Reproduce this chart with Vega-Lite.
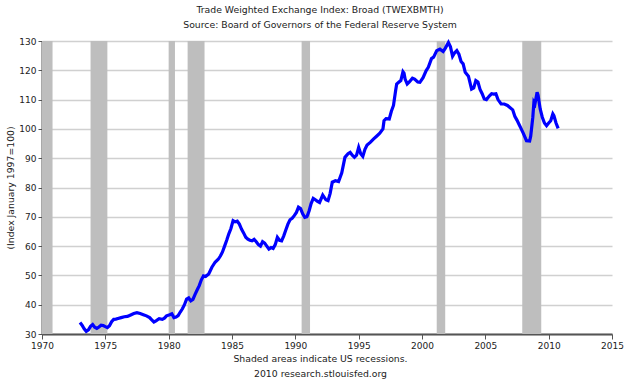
{
  "$schema": "https://vega.github.io/schema/vega-lite/v6.json",
  "width": 570,
  "height": 293,
  "autosize": "none",
  "padding": {"left": 42, "top": 41, "right": 28, "bottom": 50},
  "background": "white",
  "title": {
    "text": ["Trade Weighted Exchange Index: Broad (TWEXBMTH)", "Source: Board of Governors of the Federal Reserve System"],
    "anchor": "middle",
    "dx": -7,
    "font": "DejaVu Sans",
    "fontSize": 9.3,
    "fontWeight": "normal",
    "color": "#222222",
    "lineHeight": 15,
    "offset": 6
  },
  "config": {
    "view": {"stroke": null},
    "axis": {
      "labelFont": "DejaVu Sans",
      "labelFontSize": 9,
      "labelColor": "#222222",
      "titleFont": "DejaVu Sans",
      "titleFontSize": 9.3,
      "titleFontWeight": "normal",
      "titleColor": "#222222",
      "domainColor": "#555555",
      "domainWidth": 2,
      "tickColor": "#555555",
      "tickWidth": 1,
      "gridColor": "#d0d0d0",
      "gridWidth": 1.5
    }
  },
  "datasets": {
    "recessions": [
      {"start": "1970-01-01", "end": "1970-11-01"},
      {"start": "1973-11-01", "end": "1975-03-01"},
      {"start": "1980-01-01", "end": "1980-07-01"},
      {"start": "1981-07-01", "end": "1982-11-01"},
      {"start": "1990-07-01", "end": "1991-03-01"},
      {"start": "2001-03-01", "end": "2001-11-01"},
      {"start": "2007-12-01", "end": "2009-06-01"}
    ],
    "twex": [
      {"date": "1973-01-01", "value": 33.9},
      {"date": "1973-03-01", "value": 33.0},
      {"date": "1973-05-01", "value": 31.8},
      {"date": "1973-07-01", "value": 30.9},
      {"date": "1973-09-01", "value": 31.4},
      {"date": "1973-11-01", "value": 32.6},
      {"date": "1974-01-01", "value": 33.2},
      {"date": "1974-03-01", "value": 32.3},
      {"date": "1974-05-01", "value": 31.9},
      {"date": "1974-07-01", "value": 32.4},
      {"date": "1974-09-01", "value": 33.0},
      {"date": "1974-11-01", "value": 32.9},
      {"date": "1975-01-01", "value": 32.5},
      {"date": "1975-03-01", "value": 32.2},
      {"date": "1975-05-01", "value": 32.8},
      {"date": "1975-07-01", "value": 34.2},
      {"date": "1975-09-01", "value": 35.0},
      {"date": "1975-11-01", "value": 35.1},
      {"date": "1976-01-01", "value": 35.3},
      {"date": "1976-04-01", "value": 35.6},
      {"date": "1976-07-01", "value": 35.9},
      {"date": "1976-10-01", "value": 36.0},
      {"date": "1977-01-01", "value": 36.5},
      {"date": "1977-04-01", "value": 37.0},
      {"date": "1977-07-01", "value": 37.3},
      {"date": "1977-10-01", "value": 37.0},
      {"date": "1978-01-01", "value": 36.6},
      {"date": "1978-04-01", "value": 36.2},
      {"date": "1978-07-01", "value": 35.6},
      {"date": "1978-09-01", "value": 34.8},
      {"date": "1978-11-01", "value": 34.1},
      {"date": "1979-01-01", "value": 34.5},
      {"date": "1979-04-01", "value": 35.2},
      {"date": "1979-07-01", "value": 35.0},
      {"date": "1979-09-01", "value": 35.4},
      {"date": "1979-11-01", "value": 36.2},
      {"date": "1980-02-01", "value": 36.6},
      {"date": "1980-04-01", "value": 36.9},
      {"date": "1980-06-01", "value": 35.6},
      {"date": "1980-08-01", "value": 35.8},
      {"date": "1980-10-01", "value": 36.3},
      {"date": "1980-12-01", "value": 37.5},
      {"date": "1981-02-01", "value": 38.6},
      {"date": "1981-04-01", "value": 40.0},
      {"date": "1981-06-01", "value": 41.9},
      {"date": "1981-08-01", "value": 42.3},
      {"date": "1981-10-01", "value": 41.3},
      {"date": "1981-12-01", "value": 41.8},
      {"date": "1982-02-01", "value": 43.5},
      {"date": "1982-04-01", "value": 45.0},
      {"date": "1982-06-01", "value": 46.5},
      {"date": "1982-08-01", "value": 48.5},
      {"date": "1982-10-01", "value": 49.8},
      {"date": "1982-12-01", "value": 49.6},
      {"date": "1983-03-01", "value": 50.5},
      {"date": "1983-06-01", "value": 52.8},
      {"date": "1983-09-01", "value": 54.5},
      {"date": "1983-12-01", "value": 55.5},
      {"date": "1984-02-01", "value": 56.6},
      {"date": "1984-04-01", "value": 58.0},
      {"date": "1984-06-01", "value": 60.0},
      {"date": "1984-08-01", "value": 62.0},
      {"date": "1984-10-01", "value": 64.2},
      {"date": "1984-12-01", "value": 66.0},
      {"date": "1985-02-01", "value": 68.7},
      {"date": "1985-04-01", "value": 68.3},
      {"date": "1985-06-01", "value": 68.5},
      {"date": "1985-08-01", "value": 67.5},
      {"date": "1985-10-01", "value": 65.8},
      {"date": "1985-12-01", "value": 64.5},
      {"date": "1986-02-01", "value": 63.0},
      {"date": "1986-04-01", "value": 62.4},
      {"date": "1986-06-01", "value": 62.0},
      {"date": "1986-08-01", "value": 61.8},
      {"date": "1986-10-01", "value": 62.3},
      {"date": "1986-12-01", "value": 61.5},
      {"date": "1987-02-01", "value": 60.5},
      {"date": "1987-04-01", "value": 60.0},
      {"date": "1987-06-01", "value": 61.5},
      {"date": "1987-08-01", "value": 61.0},
      {"date": "1987-10-01", "value": 60.0},
      {"date": "1987-12-01", "value": 59.0},
      {"date": "1988-02-01", "value": 59.5},
      {"date": "1988-04-01", "value": 59.2},
      {"date": "1988-06-01", "value": 60.5},
      {"date": "1988-08-01", "value": 63.0},
      {"date": "1988-10-01", "value": 62.0},
      {"date": "1988-12-01", "value": 61.8},
      {"date": "1989-02-01", "value": 63.5},
      {"date": "1989-04-01", "value": 65.5},
      {"date": "1989-06-01", "value": 67.5},
      {"date": "1989-08-01", "value": 69.0},
      {"date": "1989-10-01", "value": 69.5},
      {"date": "1989-12-01", "value": 70.4},
      {"date": "1990-02-01", "value": 71.5},
      {"date": "1990-04-01", "value": 73.3},
      {"date": "1990-06-01", "value": 72.8},
      {"date": "1990-08-01", "value": 71.0},
      {"date": "1990-10-01", "value": 69.8},
      {"date": "1990-12-01", "value": 70.0},
      {"date": "1991-02-01", "value": 72.0},
      {"date": "1991-04-01", "value": 74.5},
      {"date": "1991-06-01", "value": 76.3},
      {"date": "1991-08-01", "value": 75.8},
      {"date": "1991-10-01", "value": 75.3},
      {"date": "1991-12-01", "value": 74.9},
      {"date": "1992-03-01", "value": 77.4},
      {"date": "1992-06-01", "value": 75.8},
      {"date": "1992-08-01", "value": 75.5},
      {"date": "1992-10-01", "value": 78.0},
      {"date": "1992-12-01", "value": 81.8},
      {"date": "1993-03-01", "value": 82.3},
      {"date": "1993-06-01", "value": 82.0},
      {"date": "1993-09-01", "value": 85.0},
      {"date": "1993-12-01", "value": 90.3},
      {"date": "1994-03-01", "value": 91.5},
      {"date": "1994-05-01", "value": 92.0},
      {"date": "1994-07-01", "value": 91.0},
      {"date": "1994-09-01", "value": 90.3},
      {"date": "1994-11-01", "value": 91.0},
      {"date": "1995-01-01", "value": 93.7},
      {"date": "1995-03-01", "value": 91.5},
      {"date": "1995-05-01", "value": 90.6},
      {"date": "1995-07-01", "value": 93.0},
      {"date": "1995-09-01", "value": 94.5},
      {"date": "1995-12-01", "value": 95.4},
      {"date": "1996-03-01", "value": 96.5},
      {"date": "1996-06-01", "value": 97.5},
      {"date": "1996-09-01", "value": 98.5},
      {"date": "1996-12-01", "value": 100.0},
      {"date": "1997-01-01", "value": 102.8},
      {"date": "1997-03-01", "value": 103.5},
      {"date": "1997-06-01", "value": 103.4},
      {"date": "1997-08-01", "value": 106.0},
      {"date": "1997-10-01", "value": 108.0},
      {"date": "1997-12-01", "value": 113.0},
      {"date": "1998-01-01", "value": 115.3},
      {"date": "1998-03-01", "value": 115.9},
      {"date": "1998-05-01", "value": 116.5},
      {"date": "1998-07-01", "value": 119.5},
      {"date": "1998-08-01", "value": 119.0},
      {"date": "1998-09-01", "value": 117.0},
      {"date": "1998-11-01", "value": 115.3},
      {"date": "1999-01-01", "value": 116.0},
      {"date": "1999-04-01", "value": 117.3},
      {"date": "1999-06-01", "value": 117.0},
      {"date": "1999-09-01", "value": 116.0},
      {"date": "1999-11-01", "value": 115.9},
      {"date": "2000-02-01", "value": 117.5},
      {"date": "2000-05-01", "value": 119.9},
      {"date": "2000-07-01", "value": 121.0},
      {"date": "2000-10-01", "value": 124.0},
      {"date": "2000-12-01", "value": 124.5},
      {"date": "2001-03-01", "value": 126.7},
      {"date": "2001-06-01", "value": 127.2},
      {"date": "2001-09-01", "value": 126.4},
      {"date": "2001-11-01", "value": 127.5},
      {"date": "2002-02-01", "value": 129.5},
      {"date": "2002-04-01", "value": 128.0},
      {"date": "2002-06-01", "value": 124.8},
      {"date": "2002-08-01", "value": 126.0},
      {"date": "2002-10-01", "value": 126.7},
      {"date": "2002-12-01", "value": 125.5},
      {"date": "2003-02-01", "value": 123.0},
      {"date": "2003-04-01", "value": 122.2},
      {"date": "2003-06-01", "value": 119.3},
      {"date": "2003-09-01", "value": 118.0},
      {"date": "2003-12-01", "value": 113.6},
      {"date": "2004-02-01", "value": 114.0},
      {"date": "2004-04-01", "value": 116.5},
      {"date": "2004-06-01", "value": 116.0},
      {"date": "2004-08-01", "value": 113.5},
      {"date": "2004-10-01", "value": 112.0},
      {"date": "2004-12-01", "value": 110.2},
      {"date": "2005-02-01", "value": 110.0},
      {"date": "2005-05-01", "value": 111.3},
      {"date": "2005-07-01", "value": 112.0},
      {"date": "2005-09-01", "value": 111.9},
      {"date": "2005-11-01", "value": 112.0},
      {"date": "2006-01-01", "value": 110.0},
      {"date": "2006-04-01", "value": 108.5},
      {"date": "2006-07-01", "value": 108.5},
      {"date": "2006-10-01", "value": 108.0},
      {"date": "2006-12-01", "value": 107.4},
      {"date": "2007-03-01", "value": 106.5},
      {"date": "2007-05-01", "value": 104.3},
      {"date": "2007-07-01", "value": 103.0},
      {"date": "2007-09-01", "value": 101.5},
      {"date": "2007-11-01", "value": 100.0},
      {"date": "2008-01-01", "value": 98.5},
      {"date": "2008-04-01", "value": 96.0},
      {"date": "2008-07-01", "value": 95.9},
      {"date": "2008-08-01", "value": 97.5},
      {"date": "2008-10-01", "value": 104.0},
      {"date": "2008-11-01", "value": 109.1},
      {"date": "2008-12-01", "value": 108.5},
      {"date": "2009-02-01", "value": 112.5},
      {"date": "2009-03-01", "value": 111.5},
      {"date": "2009-05-01", "value": 106.8},
      {"date": "2009-07-01", "value": 104.0},
      {"date": "2009-09-01", "value": 102.0},
      {"date": "2009-11-01", "value": 101.1},
      {"date": "2010-01-01", "value": 102.0},
      {"date": "2010-03-01", "value": 102.8},
      {"date": "2010-05-01", "value": 105.1},
      {"date": "2010-06-01", "value": 104.5},
      {"date": "2010-08-01", "value": 102.0},
      {"date": "2010-10-01", "value": 100.2}
    ]
  },
  "layer": [
    {
      "data": {"name": "recessions"},
      "mark": {"type": "rect", "color": "#bebebe"},
      "encoding": {
        "x": {"field": "start", "type": "temporal"},
        "x2": {"field": "end"}
      }
    },
    {
      "data": {"name": "twex"},
      "mark": {"type": "line", "color": "#0000ff", "strokeWidth": 3.2},
      "encoding": {
        "x": {
          "field": "date",
          "type": "temporal",
          "scale": {"domain": ["1970-01-01", "2015-01-01"]},
          "axis": {
            "format": "%Y",
            "tickCount": {"interval": "year", "step": 5},
            "grid": false,
            "tickSize": 5,
            "labelPadding": 2,
            "labelFlush": false,
            "labelBound": false,
            "labelOverlap": false,
            "title": ["Shaded areas indicate US recessions.", "2010 research.stlouisfed.org"],
            "titleX": 278,
            "titlePadding": 4,
            "titleLineHeight": 15
          }
        },
        "y": {
          "field": "value",
          "type": "quantitative",
          "scale": {"domain": [30, 130], "nice": false, "zero": false},
          "axis": {
            "values": [30, 40, 50, 60, 70, 80, 90, 100, 110, 120, 130],
            "grid": true,
            "tickSize": 4,
            "labelPadding": 2,
            "labelFlush": false,
            "title": "(Index January 1997=100)",
            "titlePadding": 3
          }
        }
      }
    }
  ]
}
